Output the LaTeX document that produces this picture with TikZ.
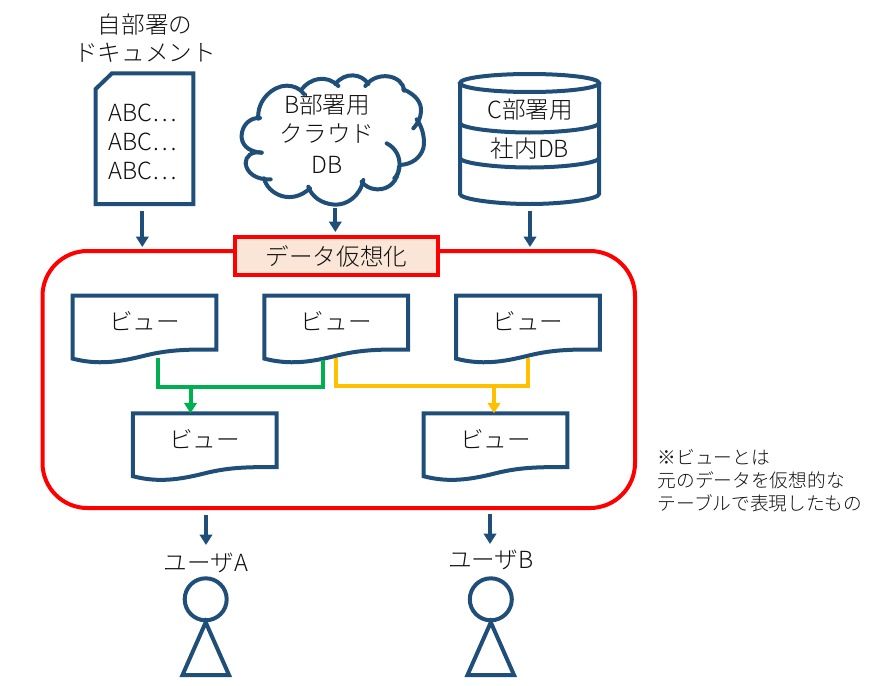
\documentclass[tikz,border=0pt]{standalone}
\usepackage{fontspec}
\setmainfont{Noto Sans CJK JP}[UprightFont=* Light]
\usetikzlibrary{arrows.meta,calc}
\definecolor{navy}{HTML}{1F4E79}
\definecolor{vgreen}{HTML}{00B050}
\definecolor{vyellow}{HTML}{FFC000}
\definecolor{vpeach}{HTML}{FBE5D6}
\definecolor{txt}{HTML}{101010}
\tikzset{
  outline/.style={draw=navy,line width=4pt,line join=miter},
  cloudline/.style={draw=navy,line width=4pt,line cap=round},
  flow/.style={navy,line width=4pt,-{Triangle[width=12.5pt,length=10.5pt]}},
  gline/.style={vgreen,line width=4pt,line join=miter},
  yline/.style={vyellow,line width=4pt,line join=miter},
  garrow/.style={vgreen,line width=4pt,-{Triangle[width=12.5pt,length=10.5pt]}},
  yarrow/.style={vyellow,line width=4pt,-{Triangle[width=12.5pt,length=10.5pt]}},
  big/.style={text=txt,inner sep=0pt,font=\fontsize{23.6}{28}\selectfont},
  small/.style={text=txt,inner sep=0pt,align=left,font=\fontsize{18.7}{23}\selectfont},
  viewnode/.style={inner sep=0pt,minimum width=143.5pt,minimum height=62.5pt,anchor=north west},
  redbox/.style={draw=red,line width=4pt}
}
\newcommand{\viewshape}[3]{%
  \node[viewnode] (#1) at (#2,#3) {};
  \draw[outline] (#1.north west) -- (#1.north east) -- ($(#1.north east)+(0,53.8)$)
    .. controls +(-26,0) and +(26,-6.5) .. ($(#1.north west)+(72,60)$)
    .. controls +(-26,6.5) and +(25,6.5) .. (#1.south west) -- cycle;
  \node[big] (#1t) at ($(#1.north)+(0,25.3)$) {ビュー};
}
\begin{document}
\begin{tikzpicture}[x=1pt,y=-1pt]
\useasboundingbox (0,0) rectangle (890,685);
% header
\node[big] (h1) at (145,25) {自部署の};
\node[big] (h2) at (145,53) {ドキュメント};
% document
\draw[outline] (112,73.3) -- (193.3,73.3) -- (193.3,204) -- (95.7,204) -- (95.7,89) -- cycle;
\node[big] (d1) at (142.5,113) {ABC…};
\node[big] (d2) at (142.5,142) {ABC…};
\node[big] (d3) at (142.5,171) {ABC…};
% cloud
\begin{scope}[shift={(60,0)},x=.33333pt,y=-.33333pt]
\draw[cloudline]
  (605,458) .. controls (560,455) and (543,430) .. (545,405) .. controls (547,375) and (570,352) .. (600,354);
\draw[cloudline]
  (595,356) .. controls (590,300) and (640,257) .. (680,257) .. controls (700,257) and (720,265) .. (732,282);
\draw[cloudline]
  (725,268) .. controls (750,235) and (800,222) .. (835,258);
\draw[cloudline]
  (826,252) .. controls (855,215) and (905,220) .. (925,252);
\draw[cloudline]
  (916,258) .. controls (950,210) and (1030,225) .. (1032,272);
\draw[cloudline]
  (1030,268) .. controls (1070,285) and (1085,310) .. (1083,335) .. controls (1082,355) and (1072,372) .. (1060,385);
\draw[cloudline]
  (1070,358) .. controls (1090,385) and (1095,420) .. (1090,445) .. controls (1080,475) and (1055,493) .. (1020,495);
\draw[cloudline]
  (980,430) .. controls (1010,445) and (1022,475) .. (1018,505) .. controls (1015,520) and (1008,530) .. (1003,535);
\draw[cloudline]
  (1017,500) .. controls (1015,545) and (985,570) .. (950,568) .. controls (930,567) and (915,558) .. (905,545);
\draw[cloudline]
  (910,540) .. controls (900,590) and (860,615) .. (825,614) .. controls (785,612) and (755,590) .. (745,560);
\draw[cloudline]
  (750,565) .. controls (720,592) and (690,595) .. (665,588) .. controls (635,578) and (618,558) .. (612,535);
\draw[cloudline]
  (632,538) .. controls (590,540) and (560,520) .. (557,490) .. controls (556,470) and (575,452) .. (605,458);
\end{scope}
\node[big] (c1) at (327,105) {B部署用};
\node[big] (c2) at (327,134) {クラウド};
\node[big] (c3) at (327,165) {DB};
% cylinder
\draw[outline] (529.5,83) ellipse [x radius=69.5,y radius=9];
\draw[outline] (460,83) -- (460,194) .. controls (460,199) and (495,204) .. (529.5,204) .. controls (564,204) and (599,199) .. (599,194) -- (599,83);
\draw[outline] (460,123) .. controls (460,128) and (495,132.5) .. (529.5,132.5) .. controls (564,132.5) and (599,128) .. (599,123);
\draw[outline] (460,158) .. controls (460,163) and (495,167.5) .. (529.5,167.5) .. controls (564,167.5) and (599,163) .. (599,158);
\node[big] (e1) at (530,110) {C部署用};
\node[big] (e2) at (530,149) {社内DB};
% main
\draw[redbox,rounded corners=45pt] (42.5,251) rectangle (635,508);
\node[draw=red,fill=vpeach,line width=4pt,inner sep=0pt,minimum width=203pt,minimum height=38pt,text=txt,font=\fontsize{23.6}{28}\selectfont] (virt) at (336.5,256) {データ仮想化};
% views
\viewshape{v1}{72.5}{295.7}
\viewshape{v2}{264.3}{295.7}
\viewshape{v3}{456}{295.7}
\viewshape{v4}{132.8}{413.3}
\viewshape{v5}{423.5}{413.3}
% view connectors
\coordinate (gj) at (190.5,386.5);
\coordinate (yj) at (494,385.5);
\draw[gline] ($(v1.south west)+(85.2,-1)$) |- (gj) -| ($(v2.south west)+(58.7,1)$);
\draw[garrow] (gj) -- (gj |- v4.north);
\draw[yline] ($(v2.south west)+(71.7,-1)$) |- (yj) -| ($(v3.south west)+(71.5,-0.5)$);
\draw[yarrow] (yj) -- (yj |- v5.north);
% upper arrows
\coordinate (a1s) at (142.3,211); \coordinate (a1e) at (142.3,247);
\coordinate (a2s) at (335.3,208); \coordinate (a2e) at (335.3,232);
\coordinate (a3s) at (530,210.7); \coordinate (a3e) at (530,247);
\coordinate (a4s) at (206,515); \coordinate (a4e) at (206,545);
\coordinate (a5s) at (490,514); \coordinate (a5e) at (490,544);
\draw[flow] (a1s) -- (a1e);
\draw[flow] (a2s) -- (a2e);
\draw[flow] (a3s) -- (a3e);
\draw[flow] (a4s) -- (a4e);
\draw[flow] (a5s) -- (a5e);
% users
\node[big] (ua) at (206,563) {ユーザA};
\node[big] (ub) at (491,560) {ユーザB};
\node[draw=navy,line width=4pt,circle,minimum size=42pt,inner sep=0pt] (ha) at (205.7,599.3) {};
\node[draw=navy,line width=4pt,circle,minimum size=42pt,inner sep=0pt] (hb) at (490.8,599.3) {};
\draw[outline] (ha.south) -- (229,675) -- (182.5,675) -- cycle;
\draw[outline] (hb.south) -- (514,675) -- (467.5,675) -- cycle;
% note
\node[small,anchor=north west] (note) at (657.5,449) {※ビューとは\\元のデータを仮想的な\\テーブルで表現したもの};
\end{tikzpicture}
\end{document}
